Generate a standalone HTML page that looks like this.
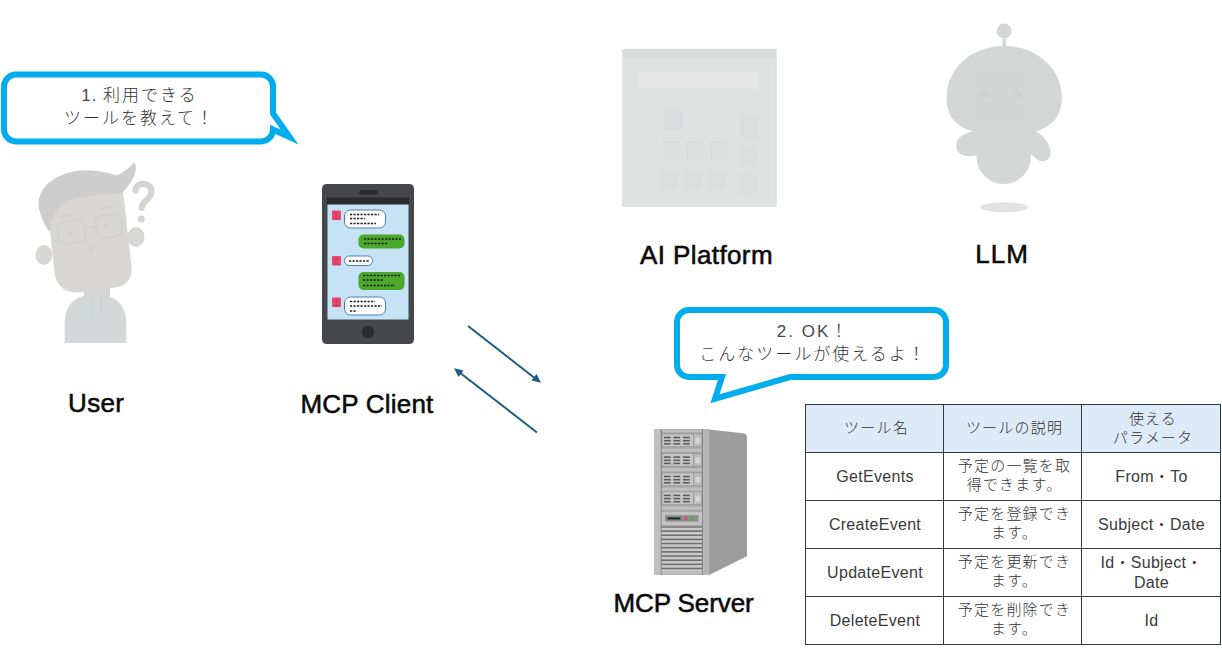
<!DOCTYPE html>
<html lang="ja">
<head>
<meta charset="utf-8">
<title>MCP flow</title>
<style>
html,body{margin:0;padding:0;background:#fff;}
body{width:1222px;height:649px;position:relative;overflow:hidden;font-family:"Liberation Sans","Noto Sans CJK JP",sans-serif;}
#art{position:absolute;left:0;top:0;width:1222px;height:649px;}
.lbl{position:absolute;font-weight:normal;-webkit-text-stroke:0.55px #0a0a0a;font-size:26px;line-height:30px;color:#0a0a0a;white-space:nowrap;transform:translateX(-50%);text-align:center;}
.say{position:absolute;font-weight:300;font-size:17px;letter-spacing:2px;line-height:23px;color:#333;text-align:center;white-space:nowrap;transform:translateX(-50%);}
table{position:absolute;left:805px;top:404px;border-collapse:collapse;table-layout:fixed;width:415px;font-weight:300;font-size:15px;letter-spacing:1.2px;line-height:19.5px;color:#333;}
td,th{border:1px solid #33383d;text-align:center;vertical-align:middle;padding:0 0 1px 4px;font-weight:300;box-sizing:border-box;}
tr{height:48px;}
th{background:#ddeaf7;}
td{padding-bottom:3px;}
td.l{color:#3a3a3a;font-size:16px;letter-spacing:.3px;padding:0 0 0 1px;}
</style>
</head>
<body>
<svg id="art" width="1222" height="649" viewBox="0 0 1222 649">
<!-- bubbles -->
<g fill="#fff" stroke="#02adee" stroke-width="6" stroke-linejoin="miter">
<path id="b1" d="M16 74.5 H261 A12 12 0 0 1 273 86.500 V113.500 L289.700 137.100 L273 129.500 A12 12 0 0 1 261 141.500 H16 A12 12 0 0 1 4 129.500 V86.500 A12 12 0 0 1 16 74.500 Z"/>
<path id="b2" d="M689 310 H934 A12 12 0 0 1 946 322 V365 A12 12 0 0 1 934 377 H790 L715 398.700 L722 377 H689 A12 12 0 0 1 677 365 V322 A12 12 0 0 1 689 310 Z"/>
</g>
<!-- user figure -->
<g id="user">
<path d="M64.700 343 V324 C64.700 302 78 294.500 95.500 294.500 C113 294.500 126.300 302 126.300 324 V343 Z" fill="#d4d8d9"/>
<rect x="84" y="284" width="26" height="13" fill="#d7d6d5"/>
<rect x="90" y="295" width="3" height="21" fill="#cfd4d5"/><rect x="100" y="295" width="3" height="21" fill="#cfd4d5"/>
<ellipse cx="44" cy="255" rx="8.500" ry="10" fill="#d7d7d6"/>
<ellipse cx="136" cy="237" rx="8.500" ry="10" fill="#d7d7d6"/>
<path d="M46 196 L122 182 L131.500 266 Q133 285 115 287.500 L80 292.500 Q60 294 55 276 Z" fill="#d9d7d6"/>
<path d="M49.500 232 C44 224 38 212 38.500 202 C40 186 56 173 80 170.500 C94 169.500 106 172 117 175.500 C124 172 130 167 134 162.500 C139 168 134 181 122 193 C104 194 84 196 68 200 C58 205 51 218 49.500 232 Z" fill="#cdcdcd"/>
<g fill="none" stroke="#d2d1d0" stroke-width="2.200">
<rect x="58" y="221" width="27" height="22" rx="6" transform="rotate(-8 71 232)"/>
<rect x="96" y="215" width="26" height="22" rx="6" transform="rotate(-8 109 226)"/>
<path d="M85 229 L96 226.500"/>
</g>
<circle cx="70" cy="233" r="2.300" fill="#d0d0cf"/><circle cx="106" cy="226" r="2.300" fill="#d0d0cf"/>
<path d="M60 217 L73 214 M99 209 L112 207" stroke="#d1d1d0" stroke-width="2.500" fill="none"/>
<ellipse cx="91" cy="249" rx="2.500" ry="3.500" fill="#d0d0cf"/>
<path d="M135.500 190.500 C135.500 181.500 151.500 181.500 151.500 191.500 C151.500 199 142.500 200 141.500 208" fill="none" stroke="#d5d5cf" stroke-width="6.200" stroke-linecap="round"/>
<circle cx="141.300" cy="219" r="3.500" fill="#d5d5cf"/>
</g>
<!-- phone -->
<g id="phone">
<rect x="322" y="184" width="92" height="160" rx="4.500" fill="#45474b"/>
<rect x="359" y="190" width="19" height="4.500" rx="2.200" fill="#2b2c2f"/>
<rect x="327" y="197.500" width="82" height="7.500" fill="#292a2f"/>
<rect x="327.500" y="204.500" width="81" height="115" fill="#c6e3f6"/>
<circle cx="368" cy="332" r="6.200" fill="#2b2c2f"/>
<g fill="#e8486b"><rect x="332" y="210.500" width="9" height="9.500" rx="1"/><rect x="332" y="256" width="9" height="9.500" rx="1"/><rect x="332" y="297.500" width="9" height="9.500" rx="1"/></g>
<g fill="#d43a60"><circle cx="336.500" cy="213.8" r="1.700"/><path d="M333.500 219.5 q3 -4.500 6 0 z"/><circle cx="336.500" cy="259.3" r="1.700"/><path d="M333.500 265 q3 -4.500 6 0 z"/><circle cx="336.500" cy="300.8" r="1.700"/><path d="M333.500 306.5 q3 -4.500 6 0 z"/></g>
<g fill="#fff" stroke="#4d7fb6" stroke-width="1"><rect x="344.500" y="210" width="41" height="18" rx="6"/><rect x="344.500" y="256" width="28" height="9.500" rx="4.700"/><rect x="344.500" y="297" width="41" height="18" rx="6"/></g>
<g fill="#4ca72d"><rect x="358.500" y="234.500" width="46" height="14" rx="5"/><rect x="358.500" y="272" width="46" height="18" rx="5"/></g>
<g stroke="#1d1d1d" stroke-width="1.400" stroke-dasharray="2.200 1.300" fill="none">
<path d="M350 214.500 H379 M350 218.500 H365 M350 223.500 H376"/>
<path d="M364 239 H401 M364 243.500 H388"/>
<path d="M349 261 H369"/>
<path d="M363 275.500 H400 M363 280 H383 M363 285.500 H395"/>
<path d="M350 301.500 H375 M350 306 H382 M350 311 H357"/>
</g>
</g>
<!-- ai platform -->
<g id="plat">
<rect x="622.800" y="49.300" width="153.400" height="156.900" fill="#e0e1e1" stroke="#d6d7d7" stroke-width="0.800"/>
<rect x="623" y="49.500" width="153" height="8" fill="#d9dada"/>
<g fill="#dcdede">
<rect x="638" y="72" width="120" height="17" rx="3" fill="#e5e6e5"/>
<rect x="664" y="111" width="19" height="19" fill="#d9dcdd"/><rect x="740" y="116" width="18" height="22"/>
<rect x="663" y="141" width="17" height="18"/><rect x="686" y="141" width="17" height="18"/><rect x="710" y="141" width="17" height="18"/><rect x="741" y="146" width="16" height="20"/>
<rect x="661" y="172" width="17" height="17"/><rect x="685" y="172" width="17" height="17"/><rect x="709" y="172" width="17" height="17"/><rect x="741" y="174" width="16" height="20"/>
</g>
</g>
<!-- robot -->
<g id="robot" fill="#d5d7d7">
<circle cx="1004.200" cy="31" r="7.500"/>
<rect x="1002.500" y="36" width="3.400" height="12"/>
<path d="M1004.200 46 C1038 46 1061.800 70 1061.800 97 C1061.800 122 1046 135 1004.200 135 C962 135 946.500 122 946.500 97 C946.500 70 970 46 1004.200 46 Z"/>
<path d="M982 126 C972 134 957 133 956.200 145 C956 156 967 158.500 982 154 Z"/>
<path d="M1026 126 C1036 130 1050 139 1050.500 152 C1050.500 163 1040 163.500 1034 157 L1026 150 Z"/>
<path d="M976.500 128 H1030.800 V157 A27.150 27 0 0 1 976.500 157 Z"/>
<ellipse cx="1004.200" cy="207.300" rx="24" ry="5" fill="#e1e2e2"/>
<rect x="970" y="72" width="58" height="52" rx="3" fill="#d4d6d6"/>
<circle cx="984.500" cy="94.300" r="4.500" fill="#cfd1d1"/><circle cx="1017.200" cy="94.300" r="4.500" fill="#cfd1d1"/>
</g>
<!-- server -->
<g id="server">
<path d="M709 429.500 L743 433.200 Q747 433.700 747 437.500 V556.200 L709 575 Z" fill="#9c9c9c"/>
<rect x="654" y="429" width="55.500" height="146" rx="2" fill="#a6a6a6"/>
<rect x="654" y="429" width="6.800" height="146" rx="2" fill="#c0c0c0"/>
<rect x="702.800" y="429" width="6.500" height="146" fill="#b6b6b6"/>
<rect x="661.600" y="429.500" width="40.500" height="2.800" fill="#bcbcbc"/>
<rect x="660.800" y="429" width="1" height="146" fill="#7d7d7d"/><rect x="702" y="429" width="1" height="146" fill="#858585"/>
<g id="bay"><rect x="661.600" y="433.500" width="40.500" height="13.500" fill="#9a9a9a"/><rect x="662.400" y="434.300" width="30.600" height="12" fill="#c4c4c4"/><rect x="694" y="434.300" width="7.400" height="12" fill="#bcbcbc"/><rect x="695.600" y="438" width="4.800" height="5.500" fill="#d6d6d6"/>
<g fill="#5a5a5a"><rect x="663.9" y="436.75" width="6.800" height="1.500"/><rect x="673.4" y="436.75" width="6.800" height="1.500"/><rect x="683" y="436.75" width="6.800" height="1.500"/><rect x="663.9" y="439.95" width="6.800" height="1.500"/><rect x="673.4" y="439.95" width="6.800" height="1.500"/><rect x="683" y="439.95" width="6.800" height="1.500"/><rect x="663.9" y="443.05" width="6.800" height="1.500"/><rect x="673.4" y="443.05" width="6.800" height="1.500"/><rect x="683" y="443.05" width="6.800" height="1.500"/></g><rect x="661.600" y="448.600" width="40.500" height="3.200" fill="#bebebe"/></g>
<use href="#bay" y="19.600"/><use href="#bay" y="39"/><use href="#bay" y="57.900"/>
<rect x="661.600" y="511.800" width="40.500" height="13.400" fill="#c2c2c2"/>
<rect x="665" y="515.200" width="33.500" height="6.400" fill="#8d8d8d"/>
<rect x="667.500" y="517.300" width="13" height="2.200" fill="#2c2c2c"/>
<rect x="684.200" y="516.800" width="3.400" height="3.300" rx="1" fill="#e0507e"/><rect x="690.500" y="516.800" width="3.400" height="3.300" rx="1" fill="#4cae46"/>
<rect x="661.600" y="526.500" width="40.500" height="45" fill="#6e6e6e"/>
<rect x="661.600" y="527.7" width="40.500" height="2.600" fill="#c9c9c9"/><rect x="661.600" y="531.9" width="40.500" height="2.600" fill="#c9c9c9"/><rect x="661.600" y="536.0" width="40.500" height="2.600" fill="#c9c9c9"/><rect x="661.600" y="540.2" width="40.500" height="2.600" fill="#c9c9c9"/><rect x="661.600" y="544.3" width="40.500" height="2.600" fill="#c9c9c9"/><rect x="661.600" y="548.5" width="40.500" height="2.600" fill="#c9c9c9"/><rect x="661.600" y="552.7" width="40.500" height="2.600" fill="#c9c9c9"/><rect x="661.600" y="556.8" width="40.500" height="2.600" fill="#c9c9c9"/><rect x="661.600" y="561.0" width="40.500" height="2.600" fill="#c9c9c9"/><rect x="661.600" y="565.1" width="40.500" height="2.600" fill="#c9c9c9"/><rect x="661.600" y="569.3" width="40.500" height="2.600" fill="#c9c9c9"/>
<rect x="661.600" y="571" width="40.500" height="3.500" fill="#bdbdbd"/>
</g>
<!-- arrows -->
<g stroke="#1c5d82" stroke-width="2" fill="#1c5d82">
<line x1="468" y1="326" x2="536" y2="379"/>
<polygon points="541,382.700 531.500,380.500 536.500,374" stroke="none"/>
<line x1="537" y1="432.500" x2="459" y2="372"/>
<polygon points="454,368.300 463.500,370.500 458.500,377" stroke="none"/>
</g>
</svg>
<div class="say" style="left:139.500px;top:84px;"><span style="letter-spacing:1px;color:#484848">1. </span>利用できる<br>ツールを教えて！</div>
<div class="say" style="left:813px;top:320px;"><span style="color:#484848">2. OK</span>！<br>こんなツールが使えるよ！</div>
<div class="lbl" style="left:96.200px;top:388px;letter-spacing:.35px;">User</div>
<div class="lbl" style="left:367px;top:389px;letter-spacing:.2px;">MCP Client</div>
<div class="lbl" style="left:706.500px;top:240px;letter-spacing:.4px;">AI Platform</div>
<div class="lbl" style="left:1002px;top:239px;letter-spacing:1px;">LLM</div>
<div class="lbl" style="left:683.500px;top:588px;letter-spacing:-.1px;">MCP Server</div>
<table>
<colgroup><col style="width:138px"><col style="width:138px"><col style="width:139px"></colgroup>
<tr><th>ツール名</th><th>ツールの説明</th><th>使える<br>パラメータ</th></tr>
<tr><td class="l">GetEvents</td><td>予定の一覧を取<br>得できます。</td><td class="l">From・To</td></tr>
<tr><td class="l">CreateEvent</td><td>予定を登録でき<br>ます。</td><td class="l">Subject・Date</td></tr>
<tr><td class="l">UpdateEvent</td><td>予定を更新でき<br>ます。</td><td class="l">Id・Subject・<br>Date</td></tr>
<tr><td class="l">DeleteEvent</td><td>予定を削除でき<br>ます。</td><td class="l">Id</td></tr>
</table>
</body>
</html>
